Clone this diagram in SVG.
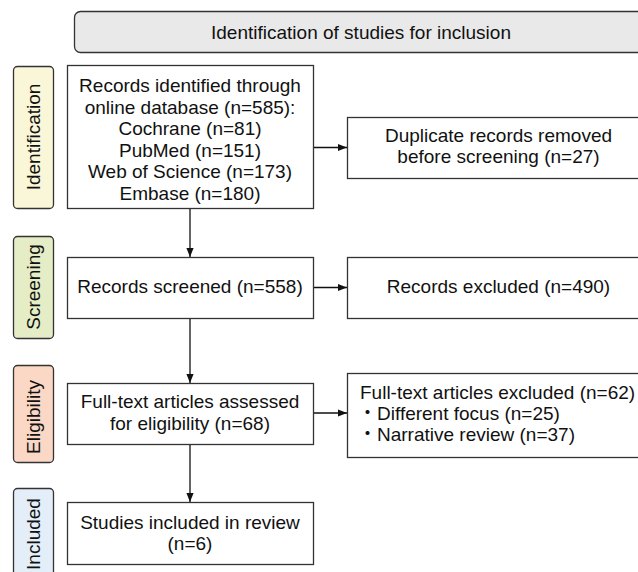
<svg xmlns="http://www.w3.org/2000/svg" width="638" height="572" viewBox="0 0 638 572">
<style>
text{font-family:"Liberation Sans",Arial,"Noto Sans CJK JP",sans-serif;font-size:19px;fill:#111}
.c{text-anchor:middle}
.box{fill:#fff;stroke:#333;stroke-width:1.3}
.hdr{fill:#e9e9e9;stroke:#333;stroke-width:1.3}
.lbl{stroke:#333;stroke-width:1.3}
.edge{stroke:#111;stroke-width:1.3;fill:none;marker-end:url(#ah)}
</style>
<defs>
<marker id="ah" viewBox="0 0 10 10" refX="10" refY="5" markerUnits="userSpaceOnUse" markerWidth="9" markerHeight="9" orient="auto">
<path d="M0,1 L10,5 L0,9 z" fill="#111"/>
</marker>
</defs>
<rect width="638" height="572" fill="#fff"/>
<g id="header">
<rect class="hdr" x="74.5" y="11.5" width="600" height="41" rx="6"/>
<text class="c" x="361" y="39">Identification of studies for inclusion</text>
</g>
<g id="label-identification">
<rect class="lbl" x="13.5" y="66.5" width="40" height="142" rx="4" fill="#faf6d8"/>
<text class="c" transform="translate(40,137) rotate(-90)">Identification</text>
</g>
<g id="label-screening">
<rect class="lbl" x="13.5" y="236.5" width="40" height="102" rx="4" fill="#e5edc6"/>
<text class="c" transform="translate(40,287) rotate(-90)">Screening</text>
</g>
<g id="label-eligibility">
<rect class="lbl" x="13.5" y="365.5" width="40" height="97" rx="4" fill="#fbd8c5"/>
<text class="c" transform="translate(40,417) rotate(-90)">Eligibility</text>
</g>
<g id="label-included">
<rect class="lbl" x="13.5" y="488.5" width="40" height="100" rx="4" fill="#e3eef9"/>
<text class="c" transform="translate(40,534) rotate(-90)">Included</text>
</g>
<g id="records-identified">
<rect class="box" x="67.5" y="65.5" width="246" height="143"/>
<text class="c" x="190" y="92">Records identified through</text>
<text class="c" x="190" y="113.5">online database (n=585):</text>
<text class="c" x="190" y="135">Cochrane (n=81)</text>
<text class="c" x="190" y="156.5">PubMed (n=151)</text>
<text class="c" x="190" y="178">Web of Science (n=173)</text>
<text class="c" x="190" y="199.5">Embase (n=180)</text>
</g>
<g id="duplicates-removed">
<rect class="box" x="347.5" y="117.5" width="302" height="61"/>
<text class="c" x="498.5" y="142">Duplicate records removed</text>
<text class="c" x="498.5" y="163">before screening (n=27)</text>
</g>
<g id="records-screened">
<rect class="box" x="67.5" y="257.5" width="246" height="61"/>
<text class="c" x="190" y="293">Records screened (n=558)</text>
</g>
<g id="records-excluded">
<rect class="box" x="347.5" y="257.5" width="302" height="61"/>
<text class="c" x="498.5" y="293">Records excluded (n=490)</text>
</g>
<g id="fulltext-assessed">
<rect class="box" x="67.5" y="383.5" width="246" height="61"/>
<text class="c" x="190" y="408">Full-text articles assessed</text>
<text class="c" x="190" y="429.5">for eligibility (n=68)</text>
</g>
<g id="fulltext-excluded">
<rect class="box" x="347.5" y="373.5" width="302" height="84"/>
<text x="360" y="399">Full-text articles excluded (n=62)</text>
<text x="358" y="420">・Different focus (n=25)</text>
<text x="358" y="441">・Narrative review (n=37)</text>
</g>
<g id="studies-included">
<rect class="box" x="67.5" y="502.5" width="246" height="62"/>
<text class="c" x="190" y="529">Studies included in review</text>
<text class="c" x="190" y="550">(n=6)</text>
</g>
<g id="connectors">
<line class="edge" x1="190" y1="209" x2="190" y2="257"/>
<line class="edge" x1="190" y1="319" x2="190" y2="383"/>
<line class="edge" x1="190" y1="445" x2="190" y2="502"/>
<line class="edge" x1="314" y1="147.5" x2="347" y2="147.5"/>
<line class="edge" x1="314" y1="287.5" x2="347" y2="287.5"/>
<line class="edge" x1="314" y1="413" x2="347" y2="413"/>
</g>
</svg>
